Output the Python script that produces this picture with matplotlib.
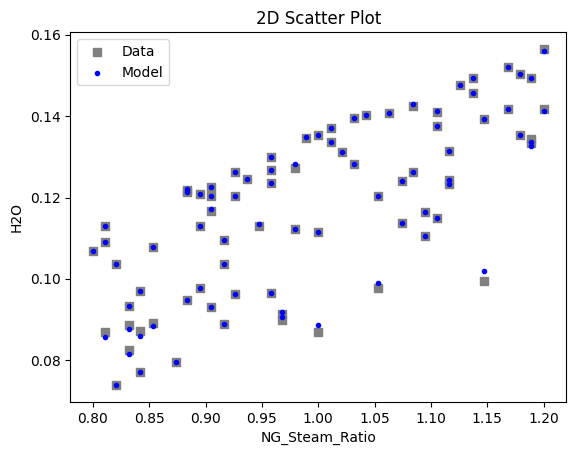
import matplotlib

matplotlib.use("Agg")
import matplotlib.pyplot as plt

# NG_Steam_Ratio for each sample (shared by data and model)
ng_steam_ratio = [
    0.800, 0.811, 0.811, 0.811, 0.821, 0.821, 0.832, 0.832, 0.832, 0.842,
    0.842, 0.842, 0.853, 0.853, 0.874, 0.884, 0.884, 0.884, 0.895, 0.895,
    0.895, 0.905, 0.905, 0.905, 0.905, 0.916, 0.916, 0.916, 0.926, 0.926,
    0.926, 0.937, 0.947, 0.958, 0.958, 0.958, 0.958, 0.968, 0.968, 0.979,
    0.979, 0.989, 1.000, 1.000, 1.000, 1.011, 1.011, 1.021, 1.032, 1.032,
    1.042, 1.053, 1.053, 1.063, 1.074, 1.074, 1.084, 1.084, 1.095, 1.095,
    1.105, 1.105, 1.105, 1.116, 1.116, 1.116, 1.126, 1.137, 1.137, 1.147,
    1.147, 1.168, 1.168, 1.179, 1.179, 1.189, 1.189, 1.189, 1.200, 1.200,
]

# measured H2O
h2o_data = [
    0.1068, 0.1130, 0.1092, 0.0870, 0.1038, 0.0739, 0.0933, 0.0886, 0.0825, 0.0971,
    0.0871, 0.0771, 0.1079, 0.0891, 0.0797, 0.1219, 0.1213, 0.0948, 0.1210, 0.1131,
    0.0979, 0.1225, 0.1204, 0.1167, 0.0930, 0.1097, 0.1038, 0.0889, 0.1262, 0.1204,
    0.0962, 0.1245, 0.1130, 0.1299, 0.1268, 0.1235, 0.0965, 0.0915, 0.0898, 0.1274,
    0.1124, 0.1346, 0.1353, 0.1115, 0.0869, 0.1372, 0.1336, 0.1311, 0.1395, 0.1282,
    0.1402, 0.1205, 0.0978, 0.1409, 0.1240, 0.1137, 0.1425, 0.1264, 0.1164, 0.1105,
    0.1410, 0.1375, 0.1150, 0.1314, 0.1243, 0.1234, 0.1476, 0.1495, 0.1456, 0.1393,
    0.0994, 0.1522, 0.1417, 0.1505, 0.1354, 0.1495, 0.1343, 0.1335, 0.1565, 0.1419,
]

# model prediction of H2O
h2o_model = [
    0.1068, 0.1130, 0.1092, 0.0857, 0.1038, 0.0739, 0.0933, 0.0876, 0.0815, 0.0971,
    0.0861, 0.0771, 0.1079, 0.0884, 0.0797, 0.1220, 0.1213, 0.0948, 0.1210, 0.1131,
    0.0979, 0.1225, 0.1204, 0.1172, 0.0930, 0.1097, 0.1038, 0.0889, 0.1262, 0.1204,
    0.0962, 0.1245, 0.1134, 0.1299, 0.1268, 0.1235, 0.0965, 0.0920, 0.0906, 0.1282,
    0.1124, 0.1348, 0.1355, 0.1115, 0.0888, 0.1372, 0.1336, 0.1311, 0.1395, 0.1282,
    0.1402, 0.1205, 0.0989, 0.1409, 0.1240, 0.1137, 0.1429, 0.1264, 0.1164, 0.1105,
    0.1414, 0.1375, 0.1150, 0.1314, 0.1243, 0.1233, 0.1476, 0.1495, 0.1456, 0.1393,
    0.1019, 0.1522, 0.1417, 0.1505, 0.1354, 0.1495, 0.1336, 0.1328, 0.1560, 0.1413,
]

fig = plt.figure(figsize=(5.76, 4.55), dpi=100)
ax = fig.add_subplot(111)
fig.subplots_adjust(left=0.122, right=0.983, top=0.929, bottom=0.1165)

ax.scatter(ng_steam_ratio, h2o_data, marker="s", color="gray", label="Data")
ax.scatter(ng_steam_ratio, h2o_model, marker=".", color="blue", label="Model")

ax.set_title("2D Scatter Plot")
ax.set_xlabel("NG_Steam_Ratio")
ax.set_ylabel("H2O")
ax.legend(loc="upper left")

fig.savefig("out.png", dpi=100)
